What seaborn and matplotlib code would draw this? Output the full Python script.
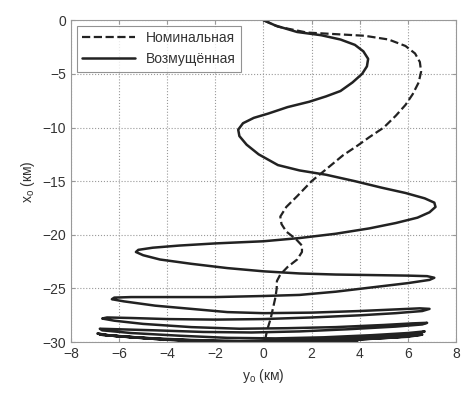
import numpy as np
import pandas as pd
import seaborn as sns
import matplotlib.pyplot as plt

# nominal trajectory (dashed)
nom_y = [0.0, 0.6, 1.8, 3.0, 4.2, 5.2, 5.9, 6.3, 6.5, 6.55, 6.45, 6.2, 5.9, 5.5, 5.0,
         4.4, 3.9, 3.3, 2.6, 2.0, 1.4, 0.95, 0.7, 0.75, 0.95, 1.35, 1.6, 1.6, 1.4, 1.0,
         0.7, 0.56, 0.55, 0.5, 0.4, 0.3, 0.15, 0.05]
nom_x = [0.0, -0.6, -1.15, -1.3, -1.45, -1.8, -2.4, -3.1, -3.9, -4.8, -5.8, -6.9, -7.9, -8.9, -10.0,
         -10.9, -11.7, -12.6, -13.9, -15.0, -16.4, -17.4, -18.3, -19.0, -19.7, -20.4, -21.0, -21.6, -22.3, -23.0,
         -23.7, -24.3, -25.0, -25.8, -26.8, -27.8, -28.9, -30.0]

# perturbed trajectory (solid)
per_y = [0.0, 0.5, 1.4, 2.4, 3.2, 3.8, 4.15, 4.35, 4.3, 4.1, 3.7, 3.2, 2.6, 1.9, 1.0,
         0.2, -0.4, -0.85, -1.05, -1.0, -0.7, -0.2, 0.6, 1.5, 2.6, 3.8, 4.9, 5.9, 6.7, 7.1,
         7.15, 6.9, 6.4, 5.5, 4.4, 3.0, 1.5, 0.0, -2.0, -3.5, -4.6, -5.2, -5.3, -5.0, -4.3,
         -3.0, -1.5, 0.0, 1.5, 3.0, 4.5, 6.0, 6.8, 7.1, 6.9, 6.0, 4.5, 3.0, 1.5, 0.0,
         -2.0, -4.0, -5.5, -6.2, -6.3, -5.8, -4.5, -3.0, -1.5, 0.0, 2.0, 4.0, 5.5, 6.5, 6.9,
         6.6, 5.5, 4.0, 2.0, 0.0, -2.0, -4.0, -5.5, -6.5, -6.7, -6.2, -5.0, -3.0, -1.0, 1.0,
         3.0, 5.0, 6.2, 6.8, 6.6, 5.5, 3.5, 1.5, -0.5, -2.5, -4.5, -6.0, -6.8, -6.7, -5.5,
         -3.5, -1.5, 0.5, 2.5, 4.5, 6.0, 6.7, 6.4, 5.0, 3.0, 1.0, -1.0, -3.0, -5.0, -6.5,
         -6.9, -6.3, -4.5, -2.5, -0.5, 1.5, 3.5, 5.5, 6.6, 6.0, 4.0, 2.0, 0.0, -2.0, -4.0,
         -6.0, -6.8, -5.5, -3.5, -1.5, 0.5, 2.5, 3.9]
per_x = [0.0, -0.5, -1.1, -1.4, -1.8, -2.3, -2.9, -3.6, -4.3, -5.0, -5.8, -6.6, -7.1, -7.6, -8.1,
         -8.7, -9.1, -9.6, -10.2, -10.8, -11.6, -12.5, -13.5, -14.0, -14.4, -15.0, -15.6, -16.1, -16.6, -17.0,
         -17.4, -17.9, -18.4, -18.9, -19.4, -19.9, -20.3, -20.6, -20.8, -21.0, -21.2, -21.4, -21.6, -21.9, -22.3,
         -22.7, -23.1, -23.4, -23.6, -23.7, -23.75, -23.8, -23.85, -24.0, -24.2, -24.5, -24.9, -25.3, -25.6, -25.7,
         -25.8, -25.8, -25.8, -25.85, -26.0, -26.2, -26.6, -26.9, -27.2, -27.3, -27.25, -27.1, -26.95, -26.85, -26.9,
         -27.1, -27.3, -27.5, -27.7, -27.85, -27.9, -27.85, -27.75, -27.7, -27.8, -28.0, -28.3, -28.6, -28.75, -28.7,
         -28.6, -28.4, -28.25, -28.2, -28.35, -28.55, -28.8, -29.0, -29.1, -29.05, -28.9, -28.8, -28.75, -28.9, -29.15,
         -29.4, -29.6, -29.65, -29.55, -29.35, -29.15, -29.0, -29.2, -29.45, -29.7, -29.85, -29.9, -29.8, -29.6, -29.35,
         -29.2, -29.4, -29.7, -29.9, -30.0, -29.95, -29.8, -29.55, -29.3, -29.5, -29.75, -29.9, -29.95, -29.9, -29.75,
         -29.45, -29.3, -29.55, -29.85, -30.0, -30.0, -29.95, -29.9]

sns.set_style("white")
plt.rcParams['font.family'] = ['Liberation Sans', 'DejaVu Sans']
plt.rcParams['mathtext.fontset'] = 'custom'
plt.rcParams['mathtext.rm'] = 'Liberation Sans'
plt.rcParams['mathtext.it'] = 'Liberation Sans'

fig = plt.figure(figsize=(4.73, 3.96), dpi=100)
ax = fig.add_axes([0.150, 0.136, 0.814, 0.813])

nom = pd.DataFrame({"y": nom_y, "x": nom_x})
per = pd.DataFrame({"y": per_y, "x": per_x})

# estimator=None keeps the path as drawn (no aggregation over repeated y)
sns.lineplot(data=nom, x="y", y="x", sort=False, estimator=None, ax=ax, color="#222222",
             linestyle="--", linewidth=1.6, label="Номинальная")
sns.lineplot(data=per, x="y", y="x", sort=False, estimator=None, ax=ax, color="#222222",
             linestyle="-", linewidth=1.8, label="Возмущённая")

ax.set_xlim(-8, 8)
ax.set_ylim(-30, 0)
ax.set_xticks(np.arange(-8, 9, 2))
ax.set_yticks(np.arange(-30, 1, 5))
ax.grid(True, linestyle=":", color="#999999", linewidth=0.8)
for s in ax.spines.values():
    s.set_color("#999999")
    s.set_linewidth(0.8)
ax.tick_params(labelsize=10, colors="#333333", direction="in", length=3,
               bottom=True, left=True, top=True, right=True)
ax.tick_params(color="#999999")

ax.set_xlabel(r"y$_\mathrm{o}$ (км)", fontsize=10, color="#333333")
ax.set_ylabel(r"x$_\mathrm{o}$ (км)", fontsize=10, color="#333333")

leg = ax.legend(loc="upper left", fontsize=10, handlelength=3.8, frameon=True,
                fancybox=False, borderaxespad=0.4)
leg.get_frame().set_edgecolor("#777777")
leg.get_frame().set_linewidth(0.8)
for t in leg.get_texts():
    t.set_color("#333333")

fig.savefig("out.png", dpi=100)
